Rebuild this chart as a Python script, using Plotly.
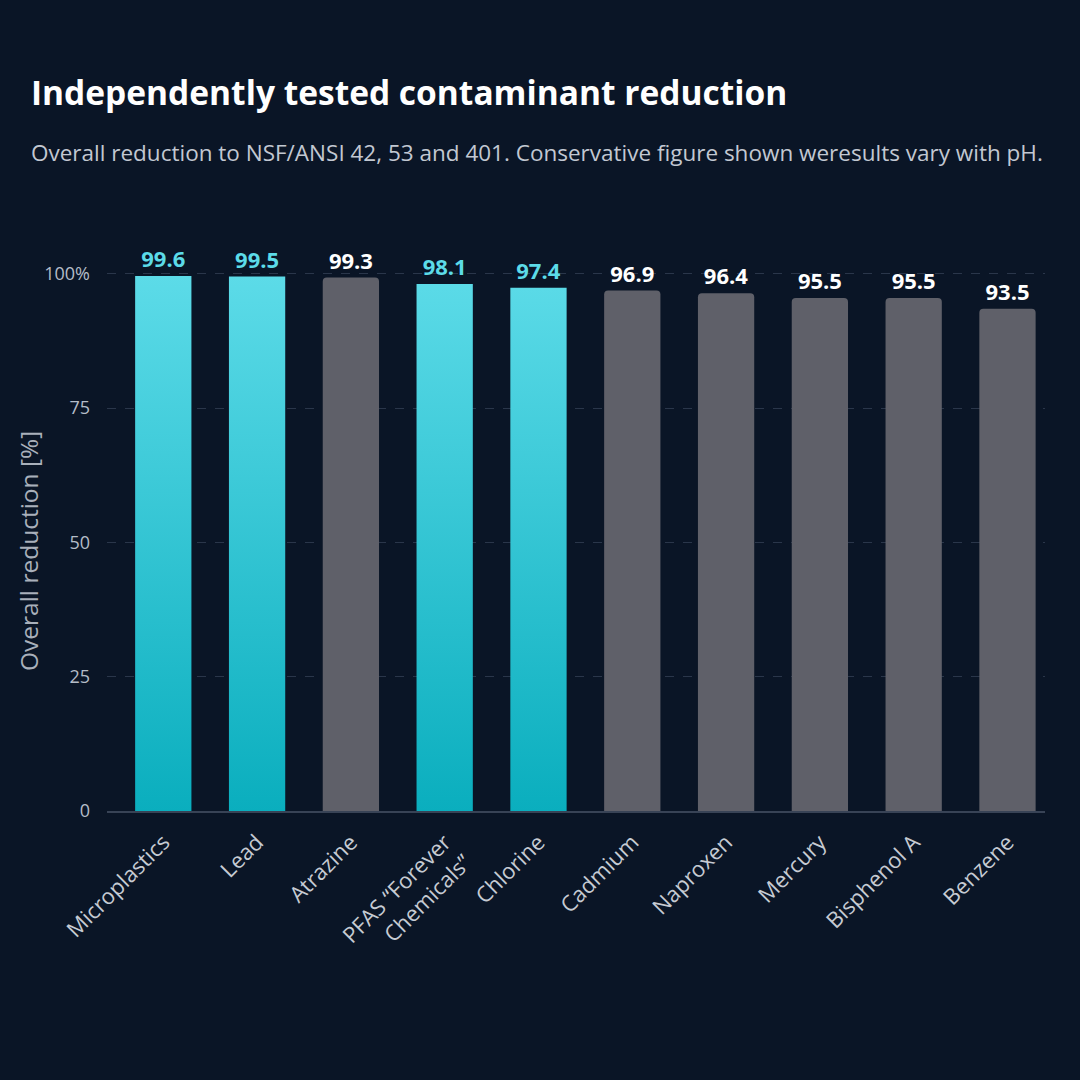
import plotly.graph_objects as go

categories = ["Microplastics", "Lead", "Atrazine", "PFAS “Forever<br>Chemicals”", "Chlorine",
              "Cadmium", "Naproxen", "Mercury", "Bisphenol A", "Benzene"]
values = [99.6, 99.5, 99.3, 98.1, 97.4, 96.9, 96.4, 95.5, 95.5, 93.5]
highlighted = [True, True, False, True, True, False, False, False, False, False]
y_ticks = [0, 25, 50, 75, 100]
y_tick_labels = ["0", "25", "50", "75", "100%"]

CYAN_TOP = "#5cdbe8"
CYAN_BOT = "#0aaebe"
CYAN_TXT = "#5cdbe8"
GRAY = "#5f6069"
BG = "#0a1526"
FONT = "Open Sans"
BAR_W = 0.6

xs = list(range(len(categories)))
bar_colors = ["rgba(0,0,0,0)" if h else GRAY for h in highlighted]
text_colors = [CYAN_TXT if h else "#ffffff" for h in highlighted]

fig = go.Figure()
fig.add_trace(go.Bar(
    x=xs, y=values,
    marker=dict(color=bar_colors, line=dict(width=0), cornerradius=4),
    text=[f"{v:.1f}" for v in values],
    textposition="outside",
    textfont=dict(family=FONT, size=22, color=text_colors, weight="bold"),
    cliponaxis=False, width=BAR_W, hoverinfo="skip",
))

# gradient-filled highlighted bars, built from the data values
px, py = [], []
for i, (v, h) in enumerate(zip(values, highlighted)):
    if not h:
        continue
    x0, x1 = i - BAR_W / 2, i + BAR_W / 2
    px += [x0, x0, x1, x1, x0, None]
    py += [0, v, v, 0, 0, None]
fig.add_trace(go.Scatter(
    x=px, y=py, mode="lines", fill="toself", line=dict(width=0),
    fillgradient=dict(type="vertical", colorscale=[[0, CYAN_BOT], [1, CYAN_TOP]]),
    hoverinfo="skip",
))

fig.update_layout(
    width=1080, height=1080,
    paper_bgcolor=BG, plot_bgcolor=BG,
    margin=dict(l=107, r=35, t=247, b=269),
    showlegend=False,
    font=dict(family=FONT, color="#b4bcc8"),
    xaxis=dict(
        tickmode="array", tickvals=xs, ticktext=categories,
        tickangle=-45, tickfont=dict(size=22, color="#c6cbd3", family=FONT),
        range=[-0.6, 9.4], showgrid=False, zeroline=False,
        showline=True, linecolor="#384356", linewidth=1.5, ticks="",
        ticklabelstandoff=8,
    ),
    yaxis=dict(
        range=[0, 105], tickmode="array", tickvals=y_ticks, ticktext=y_tick_labels,
        tickfont=dict(size=18, color="#b4bcc8", family=FONT),
        showgrid=True, gridcolor="#2a364a", griddash="dash", gridwidth=1,
        zeroline=False, ticks="", ticklabelstandoff=16,
    ),
)

fig.add_annotation(text="Overall reduction [%]", xref="paper", yref="paper", x=0, xanchor="center",
                   xshift=-107 + 29, y=0.461, yanchor="middle", textangle=-90, showarrow=False,
                   font=dict(size=24.5, color="#a9b0bb", family=FONT))
fig.add_annotation(text="<b>Independently tested contaminant reduction</b>", xref="paper", yref="paper",
                   x=0, xanchor="left", xshift=-107 + 29, y=1, yanchor="middle", yshift=247 - 92,
                   showarrow=False, font=dict(size=33.5, color="#ffffff", family=FONT))
fig.add_annotation(text="Overall reduction to NSF/ANSI 42, 53 and 401. Conservative figure shown weresults vary with pH.",
                   xref="paper", yref="paper", x=0, xanchor="left", xshift=-107 + 29, y=1, yanchor="middle",
                   yshift=247 - 152, showarrow=False, font=dict(size=22.5, color="#c2c8d2", family=FONT))

fig.write_html("out.html")
